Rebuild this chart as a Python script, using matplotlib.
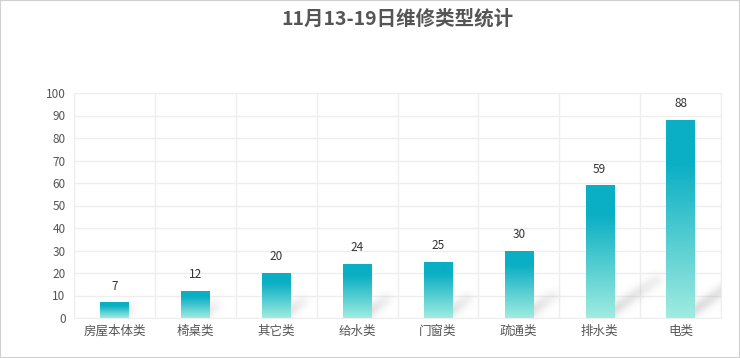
import numpy as np
import matplotlib
matplotlib.use("Agg")
import matplotlib.pyplot as plt
from matplotlib.colors import LinearSegmentedColormap
from matplotlib.patches import Rectangle

plt.rcParams['font.family'] = ['Noto Sans CJK SC', 'DejaVu Sans']

title = "11月13-19日维修类型统计"
categories = ["房屋本体类", "椅桌类", "其它类", "给水类", "门窗类", "疏通类", "排水类", "电类"]
values = [7, 12, 20, 24, 25, 30, 59, 88]
yticks = list(range(0, 101, 10))

W, H = 740, 358
L, R, T, B = 74, 721, 93, 318
fig = plt.figure(figsize=(W / 100, H / 100), dpi=100)
fig.patch.set_facecolor("white")
ax = fig.add_axes([L / W, 1 - B / H, (R - L) / W, (B - T) / H])

n = len(categories)
ymax = 100
ax.set_xlim(-0.5, n - 0.5)
ax.set_ylim(0, ymax)
ax.set_yticks(yticks)
ax.set_xticks(range(n))
ax.set_xticklabels(categories)
ax.set_xticks(np.arange(-0.5, n, 1), minor=True)
ax.grid(False)
ax.yaxis.grid(True, color="#eeeeee", lw=1)
ax.xaxis.grid(True, which="minor", color="#eeeeee", lw=1)
ax.set_axisbelow(True)
for s in ax.spines.values():
    s.set_color("#eeeeee")
ax.tick_params(axis="both", which="both", length=0, colors="#555555")
ax.tick_params(axis="x", labelsize=9, pad=5)
ax.tick_params(axis="y", labelsize=8.5, pad=6)

bw = 0.35
cmap = LinearSegmentedColormap.from_list("g", [(0, "#0aafc4"), (0.22, "#0aafc4"), (1, "#a0ece0")])
grad = np.linspace(0, 1, 256).reshape(-1, 1)

# soft diagonal shadows (computed in pixel space of the axes)
pw, ph = R - L, B - T
sx = pw / n          # px per category
sy = ph / ymax       # px per value unit
xx, yy = np.meshgrid(np.arange(pw) + 0.5, np.arange(ph) + 0.5)  # yy from bottom
alpha = np.zeros((ph, pw))
for i, v in enumerate(values):
    xr = (i + 0.5 + bw / 2) * sx
    p0 = np.array([xr - 6, 4.0])
    d = np.array([0.8 * v, 0.56 * v])
    Ls = np.hypot(*d)
    u = d / Ls
    rx, ry = xx - p0[0], yy - p0[1]
    t = rx * u[0] + ry * u[1]
    perp = -rx * u[1] + ry * u[0]
    tc = np.clip(t / Ls, 0, 1)
    along = np.where(t < 0, np.exp(-(t / 5) ** 2), np.where(t > Ls, np.exp(-((t - Ls) / 8) ** 2), 1.0))
    a = 0.3 * np.exp(-(perp / 6.5) ** 2) * along * (1 - 0.55 * tc)
    alpha = np.maximum(alpha, a)
img = np.zeros((ph, pw, 4))
img[..., :3] = 0.55
img[..., 3] = alpha
ax.imshow(img, extent=(-0.5, n - 0.5, 0, ymax), origin="lower", aspect="auto",
          zorder=1.5, interpolation="bilinear")

bars = ax.bar(range(n), values, width=bw, color="none", zorder=2)
for b, v in zip(bars, values):
    x0 = b.get_x()
    im = ax.imshow(grad, extent=(x0, x0 + bw, 0, v), cmap=cmap, aspect="auto",
                   origin="upper", zorder=2, interpolation="bilinear")
    im.set_clip_path(b)
    ax.annotate(str(v), (b.get_x() + bw / 2, v), xytext=(0, 7), textcoords="offset points",
                ha="center", va="bottom", fontsize=8.5, color="#333333")

ax.set_xlim(-0.5, n - 0.5)
ax.set_ylim(0, ymax)

fig.text(397 / W, 1 - 19 / H, title, ha="center", va="center", fontsize=14,
         fontweight="bold", color="#555555")

fig.add_artist(Rectangle((0, 0), 1, 1, transform=fig.transFigure, fill=False,
                         edgecolor="#d0d0d0", lw=1.5))

fig.savefig("out.png", dpi=100, facecolor="white")
